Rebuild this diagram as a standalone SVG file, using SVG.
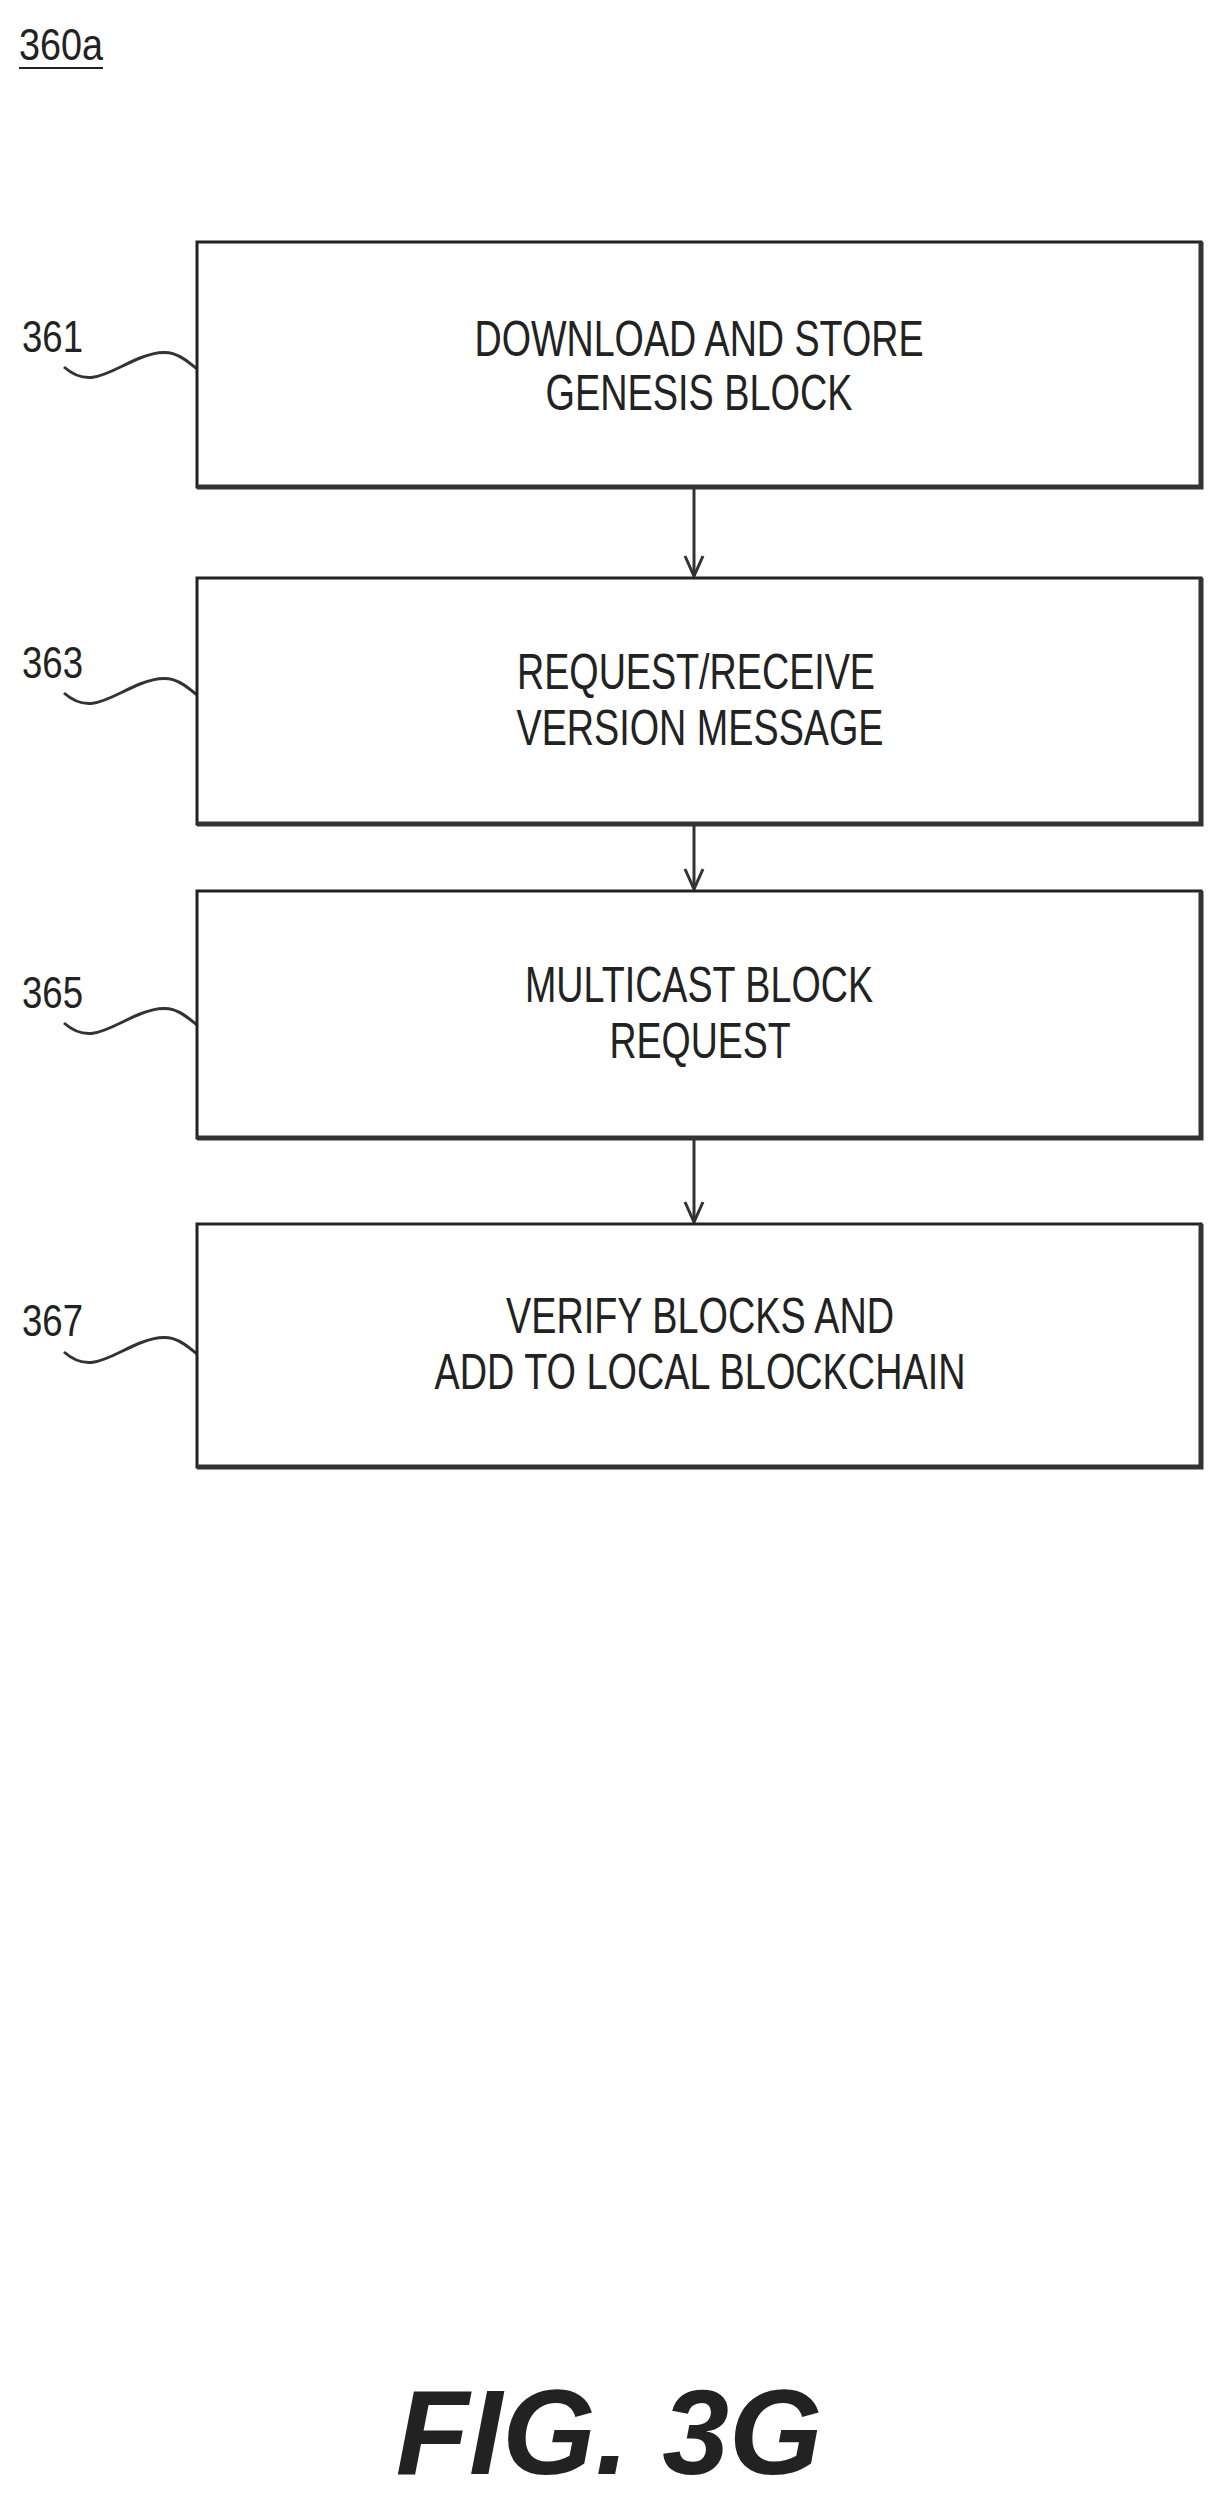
<svg xmlns="http://www.w3.org/2000/svg" width="1225" height="2496" viewBox="0 0 1225 2496">
<style>
.box{fill:#fff;stroke:#222;stroke-width:3}
.sh{stroke:#333;stroke-width:5;fill:none}
.t{font-family:"Liberation Sans",Arial,sans-serif;font-size:50px;fill:#222;text-anchor:middle}
.n{font-family:"Liberation Sans",Arial,sans-serif;font-size:44px;fill:#222}
.lead{fill:none;stroke:#333;stroke-width:3}
.c{stroke:#333;stroke-width:3;fill:none}
.ah{fill:none;stroke:#333;stroke-width:3}
</style>
<g id="title"><text class="n" x="19" y="60" font-size="40" textLength="84" lengthAdjust="spacingAndGlyphs">360a</text><line x1="19" y1="68" x2="103" y2="68" stroke="#222" stroke-width="2"/></g>
<g id="connectors">
<line class="c" x1="694" y1="489" x2="694" y2="576"/><polyline class="ah" points="685,556 694,576 703,556"/>
<line class="c" x1="694" y1="826" x2="694" y2="889"/><polyline class="ah" points="685,869 694,889 703,869"/>
<line class="c" x1="694" y1="1140" x2="694" y2="1222"/><polyline class="ah" points="685,1202 694,1222 703,1202"/>
<path class="lead" d="M64,367 C90,390 110,370 140,358 S180,355 197,369"/>
<path class="lead" d="M64,693 C90,716 110,696 140,684 S180,681 197,695"/>
<path class="lead" d="M64,1023 C90,1046 110,1026 140,1014 S180,1011 197,1025"/>
<path class="lead" d="M64,1352 C90,1375 110,1355 140,1343 S180,1340 197,1354"/>
</g>
<g id="n361"><rect class="box" x="197" y="242" width="1004" height="245"/><path class="sh" d="M197,487 H1201 V242"/>
<text class="n" x="22" y="352" textLength="61" lengthAdjust="spacingAndGlyphs">361</text>
<text class="t" x="699" y="356" textLength="449" lengthAdjust="spacingAndGlyphs">DOWNLOAD AND STORE</text>
<text class="t" x="699" y="410" textLength="307" lengthAdjust="spacingAndGlyphs">GENESIS BLOCK</text></g>
<g id="n363"><rect class="box" x="197" y="578" width="1004" height="246"/><path class="sh" d="M197,824 H1201 V578"/>
<text class="n" x="22" y="678" textLength="61" lengthAdjust="spacingAndGlyphs">363</text>
<text class="t" x="696" y="689" textLength="358" lengthAdjust="spacingAndGlyphs">REQUEST/RECEIVE</text>
<text class="t" x="700" y="745" textLength="367" lengthAdjust="spacingAndGlyphs">VERSION MESSAGE</text></g>
<g id="n365"><rect class="box" x="197" y="891" width="1004" height="247"/><path class="sh" d="M197,1138 H1201 V891"/>
<text class="n" x="22" y="1008" textLength="61" lengthAdjust="spacingAndGlyphs">365</text>
<text class="t" x="699" y="1002" textLength="348" lengthAdjust="spacingAndGlyphs">MULTICAST BLOCK</text>
<text class="t" x="700" y="1058" textLength="181" lengthAdjust="spacingAndGlyphs">REQUEST</text></g>
<g id="n367"><rect class="box" x="197" y="1224" width="1004" height="243"/><path class="sh" d="M197,1467 H1201 V1224"/>
<text class="n" x="22" y="1336" textLength="61" lengthAdjust="spacingAndGlyphs">367</text>
<text class="t" x="700" y="1333" textLength="388" lengthAdjust="spacingAndGlyphs">VERIFY BLOCKS AND</text>
<text class="t" x="700" y="1389" textLength="531" lengthAdjust="spacingAndGlyphs">ADD TO LOCAL BLOCKCHAIN</text></g>
<g id="fig"><text x="609" y="2474" font-family="Liberation Sans,Arial,sans-serif" font-size="120" font-weight="bold" font-style="italic" text-anchor="middle" fill="#222">FIG. 3G</text></g>
</svg>
